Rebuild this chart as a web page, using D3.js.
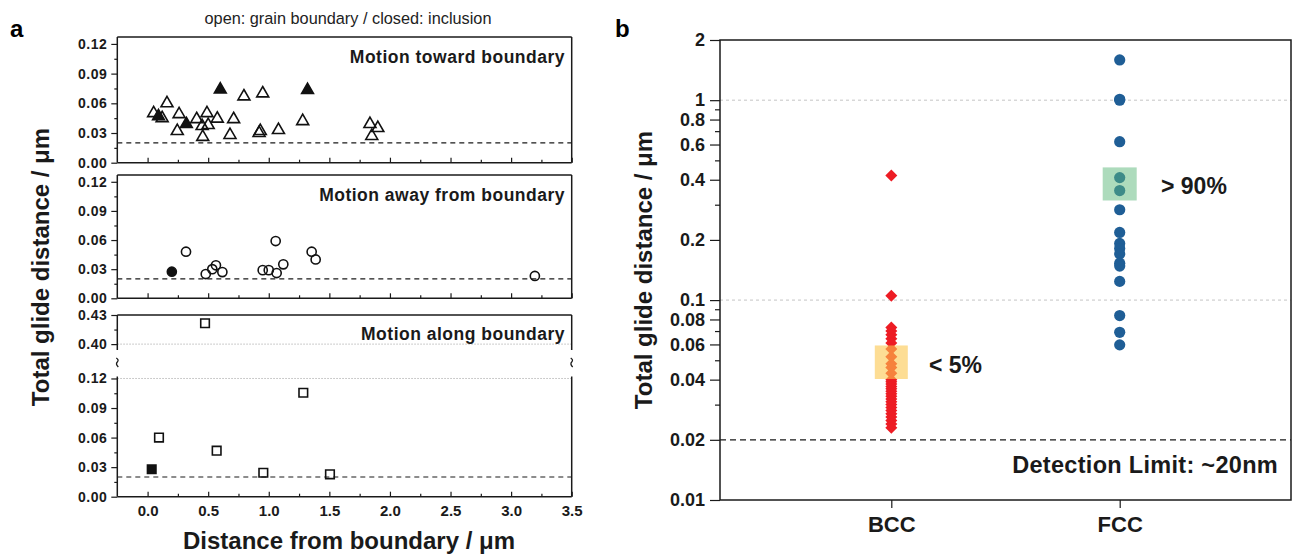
<!DOCTYPE html>
<html>
<head>
<meta charset="utf-8">
<script src="https://cdn.jsdelivr.net/npm/d3@7"></script>
<style>
  body { margin: 0; background: #fff; }
  svg { font-family: "Liberation Sans", Arial, sans-serif; }
</style>
</head>
<body>
<svg id="chart" width="1293" height="554"></svg>
<script>
// ---- panel a : [distance from boundary (um), total glide distance (um)]
let toward_closed = [[0.09, 0.047], [0.32, 0.039], [0.60, 0.074], [1.32, 0.0735]];
let toward_open = [[0.05, 0.050], [0.12, 0.045], [0.16, 0.060], [0.245, 0.032], [0.26, 0.049],
  [0.405, 0.044], [0.45, 0.037], [0.455, 0.026], [0.49, 0.050], [0.50, 0.038], [0.575, 0.0445],
  [0.68, 0.028], [0.71, 0.044], [0.795, 0.067], [0.92, 0.030], [0.93, 0.032], [0.95, 0.070],
  [1.08, 0.033], [1.28, 0.042], [1.835, 0.039], [1.90, 0.035], [1.85, 0.027]];

let away_closed = [[0.20, 0.0274]];
let away_open = [[0.317, 0.048], [0.48, 0.025], [0.534, 0.030], [0.564, 0.034], [0.617, 0.027],
  [0.95, 0.029], [1.00, 0.029], [1.065, 0.026], [1.057, 0.059], [1.12, 0.035], [1.354, 0.048],
  [1.387, 0.040], [3.196, 0.023]];

let along_closed = [[0.034, 0.0278]];
let along_open = [[0.094, 0.060], [0.474, 0.4215], [0.57, 0.0467], [0.955, 0.0243],
  [1.285, 0.1055], [1.505, 0.0227]];

let x_ticks_a = [0, 0.5, 1.0, 1.5, 2.0, 2.5, 3.0, 3.5];
let x_minor_a = [0.25, 0.75, 1.25, 1.75, 2.25, 2.75, 3.25];
let y_ticks_a = [0, 0.03, 0.06, 0.09, 0.12];
let y_minor_a = [0.015, 0.045, 0.075, 0.105];
let y_ticks_break = [0.40, 0.43];
let y_minor_break = [0.415];
let detection_limit = 0.02;

// ---- panel b : total glide distance (um)
let categories = ['BCC', 'FCC'];
let bcc_values = [0.42, 0.105, 0.073, 0.070, 0.067, 0.064, 0.061, 0.057, 0.052, 0.048, 0.046,
  0.043, 0.040, 0.039, 0.038, 0.037, 0.036, 0.035, 0.034, 0.033, 0.032, 0.031, 0.030, 0.029,
  0.028, 0.027, 0.026, 0.025, 0.024, 0.023];
let fcc_values = [1.59, 1.01, 1.0, 0.62, 0.41, 0.353, 0.283, 0.218, 0.192, 0.181, 0.170, 0.153,
  0.148, 0.124, 0.0837, 0.069, 0.0597];
let bcc_band = [0.0403, 0.0593];
let fcc_band = [0.315, 0.461];
let y_ticks_b = [0.01, 0.02, 0.04, 0.06, 0.08, 0.1, 0.2, 0.4, 0.6, 0.8, 1, 2];
let y_minor_b = [0.03, 0.05, 0.07, 0.09, 0.3, 0.5, 0.7, 0.9];
let grid_b = [0.1, 1];

let svg = d3.select('#chart');
let ink = '#1a1a1a';

// ================= panel a =================
let a_left = 117.3, a_right = 571.7;
let xA = d3.scaleLinear().domain([-0.25, 3.5]).range([a_left, a_right]);

let panels_a = [
  {title: 'Motion toward boundary', top: 37, bottom: 162.7, title_y: 63, closed: toward_closed, open: toward_open, symbol: d3.symbolTriangle, size: 62},
  {title: 'Motion away from boundary', top: 175, bottom: 298.3, title_y: 201, closed: away_closed, open: away_open, symbol: d3.symbolCircle, size: 66},
  {title: 'Motion along boundary', top: 315, bottom: 496.7, title_y: 340, closed: along_closed, open: along_open, symbol: d3.symbolSquare, size: 74, broken: true}
];

svg.append('text').attr('x', 10).attr('y', 37).attr('font-size', 24).attr('font-weight', 'bold').text('a');
svg.append('text').attr('x', 348).attr('y', 24).attr('font-size', 16.3).attr('text-anchor', 'middle')
  .attr('fill', '#222').text('open: grain boundary / closed: inclusion');

function style_axis(g, font_size){
  g.select('.domain').remove();
  g.selectAll('line').attr('stroke', ink).attr('stroke-width', 1.2);
  g.selectAll('text').attr('font-size', font_size).attr('font-weight', 'bold').attr('fill', ink)
    .attr('font-family', '"Liberation Sans", Arial, sans-serif');
}

panels_a.forEach(function(p, i){
  let g = svg.append('g').attr('class', 'panel_a_' + i);
  let y_low, y_up = null;
  if(p.broken){
    y_low = d3.scaleLinear().domain([0, 0.122]).range([p.bottom, 376.5]);
    y_up = d3.scaleLinear().domain([0.396, 0.43]).range([348, p.top]);
  }else{
    y_low = d3.scaleLinear().domain([0, 0.127]).range([p.bottom, p.top]);
  }
  let yv = d => (y_up && d > 0.2) ? y_up(d) : y_low(d);

  // dotted guides at the break
  if(p.broken){
    [[y_up, 0.40], [y_low, 0.12]].forEach(function(s){
      g.append('line').attr('x1', a_left).attr('x2', a_right).attr('y1', s[0](s[1])).attr('y2', s[0](s[1]))
        .attr('stroke', '#bbb').attr('stroke-width', 1).attr('stroke-dasharray', '1.5,1.5');
    });
  }

  // detection limit
  g.append('line').attr('x1', a_left).attr('x2', a_right)
    .attr('y1', y_low(detection_limit)).attr('y2', y_low(detection_limit))
    .attr('stroke', ink).attr('stroke-width', 1.2).attr('stroke-dasharray', '5,4');

  // y axes
  let ya = g.append('g').attr('transform', 'translate(' + a_left + ',0)')
    .call(d3.axisLeft(y_low).tickValues(y_ticks_a).tickSize(6).tickPadding(4).tickFormat(d3.format('.2f')));
  style_axis(ya, 14);
  ya.selectAll('text').attr('letter-spacing', 0.5);
  let ym = g.append('g').attr('transform', 'translate(' + a_left + ',0)')
    .call(d3.axisLeft(y_low).tickValues(y_minor_a).tickSize(3).tickFormat(''));
  style_axis(ym, 14);
  if(y_up){
    let yb = g.append('g').attr('transform', 'translate(' + a_left + ',0)')
      .call(d3.axisLeft(y_up).tickValues(y_ticks_break).tickSize(6).tickPadding(4).tickFormat(d3.format('.2f')));
    style_axis(yb, 14);
    yb.selectAll('text').attr('letter-spacing', 0.5);
    let ybm = g.append('g').attr('transform', 'translate(' + a_left + ',0)')
      .call(d3.axisLeft(y_up).tickValues(y_minor_break).tickSize(3).tickFormat(''));
    style_axis(ybm, 14);
  }

  // x axis (ticks inward)
  let xa = g.append('g').attr('transform', 'translate(0,' + p.bottom + ')')
    .call(d3.axisBottom(xA).tickValues(x_ticks_a).tickSizeInner(-5).tickSizeOuter(0).tickPadding(9)
      .tickFormat(p.broken ? d3.format('.1f') : ''));
  style_axis(xa, 15);
  let xm = g.append('g').attr('transform', 'translate(0,' + p.bottom + ')')
    .call(d3.axisBottom(xA).tickValues(x_minor_a).tickSizeInner(-3).tickSizeOuter(0).tickFormat(''));
  style_axis(xm, 15);

  // frame
  let frame = [];
  frame.push([[a_left, p.top], [a_right, p.top]]);
  frame.push([[a_left, p.bottom], [a_right, p.bottom]]);
  if(p.broken){
    [a_left, a_right].forEach(function(xx){
      frame.push([[xx, p.top], [xx, 350]]);
      frame.push([[xx, 376.5], [xx, p.bottom]]);
    });
  }else{
    frame.push([[a_left, p.top], [a_left, p.bottom]]);
    frame.push([[a_right, p.top], [a_right, p.bottom]]);
  }
  g.selectAll('.frame').data(frame).enter().append('path').attr('class', 'frame')
    .attr('d', d3.line()).attr('stroke', ink).attr('stroke-width', 1.5).attr('fill', 'none');

  if(p.broken){
    // break marks
    g.selectAll('.brk').data([a_left, a_right]).enter().append('path').attr('class', 'brk')
      .attr('d', d => 'M' + (d - 1) + ',358 q 3,2 1,4 t 1,5')
      .attr('stroke', ink).attr('stroke-width', 1.3).attr('fill', 'none');
  }

  // title
  g.append('text').attr('x', 565).attr('y', p.title_y).attr('text-anchor', 'end')
    .attr('font-size', 17.5).attr('font-weight', 'bold').attr('letter-spacing', 0.5).attr('fill', ink)
    .text(p.title);

  // markers: closed first, then open on top
  let sym = d3.symbol(p.symbol, p.size);
  g.selectAll('.closed').data(p.closed).enter().append('path').attr('class', 'closed')
    .attr('transform', d => 'translate(' + xA(d[0]) + ',' + yv(d[1]) + ')')
    .attr('d', sym).attr('fill', '#111').attr('stroke', '#111').attr('stroke-width', 1.5);
  g.selectAll('.open').data(p.open).enter().append('path').attr('class', 'open')
    .attr('transform', d => 'translate(' + xA(d[0]) + ',' + yv(d[1]) + ')')
    .attr('d', sym).attr('fill', 'none').attr('stroke', '#111').attr('stroke-width', 1.6);
});

svg.append('text').attr('transform', 'translate(49,267) rotate(-90)').attr('text-anchor', 'middle')
  .attr('font-size', 24).attr('font-weight', 'bold').attr('fill', ink).text('Total glide distance / μm');
svg.append('text').attr('x', 349).attr('y', 549).attr('text-anchor', 'middle')
  .attr('font-size', 24).attr('font-weight', 'bold').attr('fill', ink).text('Distance from boundary / μm');

// ================= panel b =================
let b_left = 720, b_right = 1291, b_top = 40, b_bottom = 500;
let xB = d3.scalePoint().domain(categories).range([b_left, b_right]).padding(0.75);
let yB = d3.scaleLog().domain([0.01, 2]).range([b_bottom, b_top]);
let gb = svg.append('g').attr('class', 'panel_b');

svg.append('text').attr('x', 615).attr('y', 37).attr('font-size', 24).attr('font-weight', 'bold').text('b');

gb.selectAll('.grid').data(grid_b).enter().append('line').attr('class', 'grid')
  .attr('x1', b_left).attr('x2', b_right).attr('y1', d => yB(d)).attr('y2', d => yB(d))
  .attr('stroke', '#c4c4c4').attr('stroke-width', 1).attr('stroke-dasharray', '3,3');
gb.append('line').attr('x1', b_left).attr('x2', b_right)
  .attr('y1', yB(detection_limit)).attr('y2', yB(detection_limit))
  .attr('stroke', ink).attr('stroke-width', 1.2).attr('stroke-dasharray', '6,4');

let yba = gb.append('g').attr('transform', 'translate(' + b_left + ',0)')
  .call(d3.axisLeft(yB).tickValues(y_ticks_b).tickSize(10).tickPadding(5).tickFormat(d3.format('~g')));
style_axis(yba, 18);
let ybm = gb.append('g').attr('transform', 'translate(' + b_left + ',0)')
  .call(d3.axisLeft(yB).tickValues(y_minor_b).tickSize(5).tickFormat(''));
style_axis(ybm, 18);
let xba = gb.append('g').attr('transform', 'translate(0,' + b_bottom + ')')
  .call(d3.axisBottom(xB).tickSizeInner(8).tickSizeOuter(0).tickPadding(8));
style_axis(xba, 22);

gb.append('rect').attr('x', b_left).attr('y', b_top).attr('width', b_right - b_left).attr('height', b_bottom - b_top)
  .attr('fill', 'none').attr('stroke', ink).attr('stroke-width', 1.5);

let diamond = d3.symbol(d3.symbolSquare, 72);
gb.selectAll('.bcc').data(bcc_values).enter().append('path').attr('class', 'bcc')
  .attr('transform', d => 'translate(' + xB('BCC') + ',' + yB(d) + ') rotate(45)')
  .attr('d', diamond).attr('fill', '#ed1c24');
gb.selectAll('.fcc').data(fcc_values).enter().append('circle').attr('class', 'fcc')
  .attr('cx', xB('FCC')).attr('cy', d => yB(d)).attr('r', 5.6).attr('fill', '#1f5e96');

gb.append('rect').attr('x', xB('BCC') - 16.5).attr('width', 33)
  .attr('y', yB(bcc_band[1])).attr('height', yB(bcc_band[0]) - yB(bcc_band[1]))
  .attr('fill', '#fbc74c').attr('fill-opacity', 0.6);
gb.append('rect').attr('x', xB('FCC') - 17).attr('width', 34)
  .attr('y', yB(fcc_band[1])).attr('height', yB(fcc_band[0]) - yB(fcc_band[1]))
  .attr('fill', '#5cb87a').attr('fill-opacity', 0.5);

gb.append('text').attr('x', 929).attr('y', 373).attr('font-size', 23).attr('font-weight', 'bold')
  .attr('fill', ink).text('< 5%');
gb.append('text').attr('x', 1161).attr('y', 194).attr('font-size', 23).attr('font-weight', 'bold')
  .attr('fill', ink).text('> 90%');
gb.append('text').attr('x', 1278).attr('y', 473).attr('text-anchor', 'end').attr('font-size', 23.5)
  .attr('font-weight', 'bold').attr('letter-spacing', 0.3).attr('fill', ink).text('Detection Limit: ~20nm');

svg.append('text').attr('transform', 'translate(652,270) rotate(-90)').attr('text-anchor', 'middle')
  .attr('font-size', 24).attr('font-weight', 'bold').attr('fill', ink).text('Total glide distance / μm');
</script>
</body>
</html>
